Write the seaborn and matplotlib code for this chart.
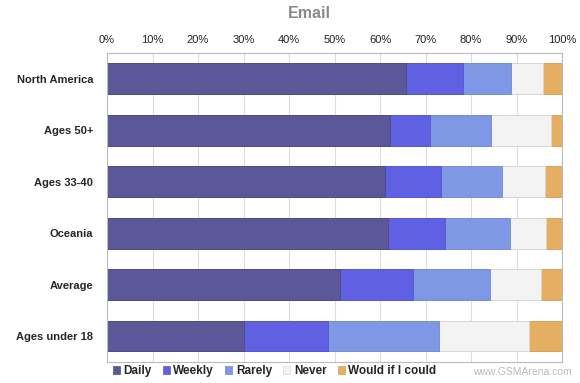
import pandas as pd
import matplotlib.pyplot as plt
import seaborn as sns
import matplotlib

sns.set_style('white')
matplotlib.rcParams['font.family'] = ['Liberation Sans', 'DejaVu Sans']

# Данные графика (проценты)
groups = ['North America', 'Ages 50+', 'Ages 33-40', 'Oceania', 'Average', 'Ages under 18']
daily = [65.7, 62.2, 61.2, 61.8, 51.3, 30.2]
weekly = [12.6, 8.8, 12.1, 12.5, 16.0, 18.4]
rarely = [10.5, 13.5, 13.5, 14.3, 16.9, 24.3]
never = [7.0, 13.1, 9.4, 7.9, 11.2, 19.9]
would = [4.2, 2.4, 3.8, 3.5, 4.6, 7.2]

series = ['Daily', 'Weekly', 'Rarely', 'Never', 'Would if I could']
colors = ['#5B5899', '#6060E2', '#7F98E6', '#F3F3F3', '#E5AE62']
edges = ['#4F4C88', '#5555CC', '#7088D4', '#D8D8D8', '#D09C55']

df = pd.DataFrame({'group': groups, 'Daily': daily, 'Weekly': weekly,
                   'Rarely': rarely, 'Never': never, 'Would if I could': would})

fig = plt.figure(figsize=(5.8, 3.83), dpi=100)
ax = fig.add_axes([107 / 580, 1 - 361.7 / 383, 455 / 580, 308.7 / 383])

# Накопленные суммы, рисуем от самого длинного к короткому
cum = df[series].cumsum(axis=1)
for name, color, ec in reversed(list(zip(series, colors, edges))):
    sns.barplot(x=cum[name], y=df['group'], ax=ax, color=color, width=0.6,
                edgecolor=ec, linewidth=0.6, saturation=1, orient='h')

ax.set_xlim(0, 100)
ax.set_ylim(5.5, -0.5)
ax.set_xticks(range(0, 101, 10))
ax.set_xticklabels([f'{t}%' for t in range(0, 101, 10)])
ax.xaxis.tick_top()
ax.tick_params(axis='x', length=0, labelsize=8, pad=6, colors='#222222')
ax.tick_params(axis='y', length=0, pad=10)
for lbl in ax.get_yticklabels():
    lbl.set_fontweight('bold')
    lbl.set_fontsize(8)
ax.set_xlabel('')
ax.set_ylabel('')
ax.grid(axis='x', color='#DDDDDD', linewidth=0.8)
ax.set_axisbelow(True)
for sp in ax.spines.values():
    sp.set_color('#BBBBBB')
    sp.set_linewidth(0.8)

fig.text(309 / 580, 1 - 13 / 383, 'Email', ha='center', va='center', fontsize=11.5,
         fontweight='bold', color='#8A8A8A')

handles = [plt.Rectangle((0, 0), 1, 1, facecolor=c, edgecolor=e, linewidth=0.5)
           for c, e in zip(colors, edges)]
fig.legend(handles, series, loc='center left', bbox_to_anchor=(102 / 580, 1 - 371 / 383),
           ncol=5, frameon=False, handlelength=0.6, handleheight=0.6,
           handletextpad=0.3, columnspacing=0.95, prop={'weight': 'bold', 'size': 8.5})

fig.text(572 / 580, 1 - 372 / 383, 'www.GSMArena.com', ha='right', va='center',
         fontsize=7.5, color='#BBBBBB')

plt.savefig('out.png', dpi=100)
plt.close()
